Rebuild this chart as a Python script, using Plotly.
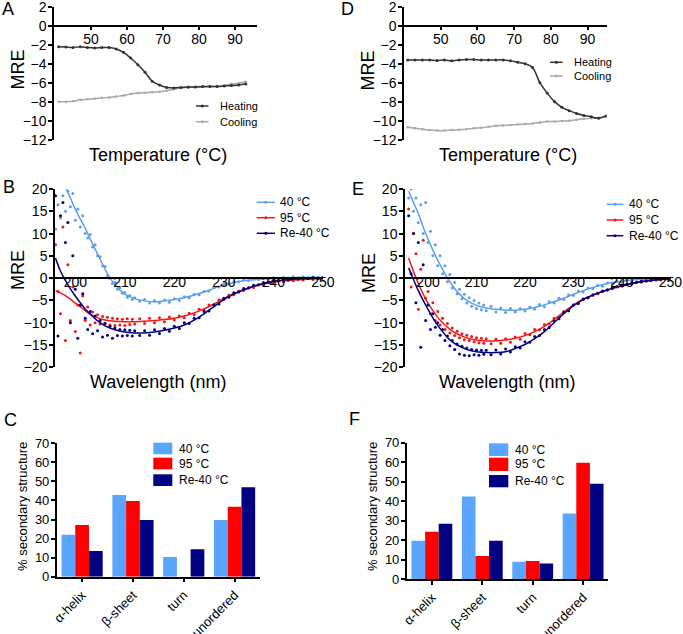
import plotly.graph_objects as go

# ── 캔버스 / 스타일 ──────────────────────────────────────────────────────────
W, H = 683, 634
FONT = "Arial, Liberation Sans, sans-serif"

LINE_BLUE = "#5b9ff0"
LINE_RED = "#f01818"
LINE_NAVY = "#000080"
BAR_BLUE = "#5aa6ff"
BAR_RED = "#ff0000"
BAR_NAVY = "#000080"
HEAT_GREY = "#333333"
COOL_GREY = "#a8a8a8"

# ── 데이터: 열 변성 (A, D) ──────────────────────────────────────────────────
TEMP_A = [41, 43, 45, 47, 49, 51, 53, 55, 57, 59, 61, 63, 65, 67,
          69, 71, 73, 75, 77, 79, 81, 83, 85, 87, 89, 91, 93]
A_HEATING = [-2.2, -2.25, -2.3, -2.2, -2.3, -2.35, -2.3, -2.3, -2.45, -2.8, -3.4, -4.1, -4.9, -5.85,
             -6.25, -6.5, -6.55, -6.5, -6.45, -6.45, -6.4, -6.4, -6.4, -6.35, -6.3, -6.25, -6.15]
A_COOLING = [-8.0, -8.0, -7.95, -7.8, -7.75, -7.7, -7.6, -7.55, -7.45, -7.35, -7.2, -7.1, -7.05, -7.0,
             -6.95, -6.85, -6.7, -6.55, -6.5, -6.45, -6.45, -6.4, -6.4, -6.3, -6.15, -6.05, -5.9]

TEMP_D = [41, 43, 45, 47, 49, 51, 53, 55, 57, 59, 61, 63, 65, 67,
          69, 71, 73, 75, 77, 79, 81, 83, 85, 87, 89, 91, 93, 95]
D_HEATING = [-3.6, -3.6, -3.6, -3.6, -3.65, -3.6, -3.7, -3.6, -3.55, -3.55, -3.6, -3.6, -3.6, -3.6,
             -3.7, -3.85, -4.0, -4.4, -6.0, -7.1, -8.0, -8.6, -8.95, -9.25, -9.45, -9.6, -9.75, -9.5]
D_COOLING = [-10.7, -10.8, -10.9, -11.0, -11.05, -11.05, -11.0, -10.95, -10.9, -10.8, -10.75, -10.65, -10.55, -10.5,
             -10.45, -10.4, -10.35, -10.3, -10.2, -10.1, -10.1, -10.05, -10.0, -9.9, -9.8, -9.75, -9.7, -9.6]

# ── 데이터: CD 스펙트럼 (B, E) ──────────────────────────────────────────────
WL_FIT = [196, 197, 198, 199, 200, 201, 202, 203, 204, 205, 206,
          208, 210, 212, 214, 216, 218, 220, 222, 224, 226, 228,
          230, 232, 234, 236, 238, 240, 242, 244, 246, 248, 250]
B_FIT_40 = [26, 23, 20.5, 18, 15.5, 13.3, 11.2, 8.8, 6.5, 4.3, 2.0,
            -1.5, -3.6, -4.6, -5.1, -5.3, -5.1, -4.8, -4.4, -3.8, -3.1, -2.3,
            -1.5, -1.0, -0.6, -0.35, -0.2, -0.1, 0.0, 0.1, 0.15, 0.2, 0.2]
B_FIT_95 = [-2.8, -3.3, -3.9, -4.7, -5.6, -6.4, -7.3, -8.1, -8.7, -9.1, -9.4,
            -9.7, -9.8, -9.8, -9.7, -9.5, -9.3, -9.0, -8.5, -7.8, -6.9, -5.8,
            -4.6, -3.5, -2.6, -1.9, -1.3, -0.9, -0.6, -0.4, -0.3, -0.2, -0.15]
B_FIT_RE40 = [4.5, 1.6, -0.5, -2.4, -4.0, -5.5, -6.9, -8.0, -9.1, -10.0, -10.7,
              -11.6, -12.1, -12.3, -12.3, -12.1, -11.7, -11.2, -10.5, -9.4, -8.0, -6.4,
              -4.8, -3.6, -2.6, -1.8, -1.2, -0.7, -0.4, -0.25, -0.1, 0.0, 0.05]
E_FIT_40 = [19.5, 17.0, 14.5, 11.5, 8.8, 6.3, 4.0, 2.0, 0.0, -1.6, -3.0,
            -5.0, -6.1, -6.7, -7.0, -7.2, -7.2, -7.0, -6.6, -6.0, -5.3, -4.5,
            -3.6, -2.8, -2.1, -1.5, -1.0, -0.7, -0.4, -0.3, -0.2, -0.1, 0.0]
E_FIT_95 = [4.5, 1.5, -1.2, -3.6, -5.6, -7.3, -8.8, -10.0, -11.0, -11.9, -12.5,
            -13.4, -13.9, -14.1, -14.1, -13.9, -13.5, -12.9, -12.0, -10.8, -9.3, -7.6,
            -6.0, -4.7, -3.8, -3.0, -2.3, -1.7, -1.2, -0.8, -0.5, -0.3, -0.2]
E_FIT_RE40 = [2.3, -0.3, -2.8, -5.0, -7.0, -8.9, -10.6, -12.0, -13.3, -14.3, -15.0,
              -16.0, -16.5, -16.7, -16.7, -16.5, -15.8, -14.9, -13.6, -12.0, -10.0, -8.0,
              -6.2, -4.8, -3.8, -3.0, -2.3, -1.7, -1.2, -0.8, -0.5, -0.3, -0.1]

WL_PTS = [196, 196.5, 197, 197.5, 198, 198.5, 199, 199.5, 200, 200.5, 201, 201.5,
          202, 202.5, 203, 203.5, 204, 204.5, 205, 205.5, 206, 206.5, 207, 207.5,
          208, 208.5, 209, 209.5, 210, 210.5, 211, 211.5, 212,
          213, 214, 215, 216, 217, 218, 219, 220, 221, 222, 223, 224, 225, 226, 227,
          228, 229, 230, 231, 232, 233, 234, 235, 236, 237, 238, 239, 240, 241, 242,
          243, 244, 245, 246, 247, 248, 249, 250]
B_PTS_40 = [11.0, 16.5, 13.5, 18.5, 15.0, 19.5, 16.0, 19.0, 13.0, 15.5, 11.5, 14.0,
            10.0, 9.0, 9.8, 7.0, 7.5, 5.0, 4.8, 2.8, 2.6, 0.6, 0.0, -1.2,
            -1.0, -2.5, -2.2, -3.4, -3.2, -4.3, -3.9, -4.8, -4.4,
            -5.2, -4.8, -5.6, -5.0, -5.6, -4.9, -5.4, -4.6, -5.0, -4.2, -4.4, -3.6, -3.7, -3.0, -2.9,
            -2.1, -2.0, -1.3, -1.3, -0.8, -0.8, -0.4, -0.5, -0.2, -0.3, 0.0, -0.2, 0.1, -0.1, 0.2,
            0.0, 0.3, 0.1, 0.3, 0.1, 0.3, 0.1, 0.2]
B_PTS_95 = [7.5, -3.0, -8.0, 11.5, -14.0, 3.0, -9.5, -2.0, -12.0, -6.0, -16.8, -4.0,
            -9.5, -6.5, -10.5, -7.6, -10.0, -8.2, -10.3, -8.6, -10.2, -8.8, -10.5, -9.0,
            -10.6, -9.1, -10.5, -9.2, -10.6, -9.1, -10.4, -9.2, -10.3,
            -9.1, -10.2, -9.0, -10.0, -8.9, -9.8, -8.7, -9.4, -8.5, -8.9, -7.9, -8.2, -7.0, -7.2, -6.0,
            -6.1, -4.9, -4.8, -3.8, -3.7, -2.9, -2.8, -2.1, -2.1, -1.5, -1.5, -1.0, -1.1, -0.6, -0.8,
            -0.4, -0.6, -0.2, -0.4, -0.1, -0.3, -0.1, -0.3]
B_PTS_RE40 = [18.5, -13.0, 14.0, 17.0, 8.0, 12.5, -10.0, 5.0, -2.5, -13.5, -6.0, -3.5,
              -9.0, -11.5, -7.5, -12.5, -8.5, -11.8, -9.5, -13.2, -10.2, -12.8, -10.8, -13.5,
              -11.2, -12.9, -11.5, -13.0, -11.6, -12.9, -11.7, -13.0, -11.8,
              -12.9, -11.8, -12.8, -11.6, -12.4, -11.3, -11.9, -10.8, -11.3, -10.0, -10.2, -9.0, -8.9, -7.5, -7.4,
              -6.0, -5.8, -4.5, -4.3, -3.3, -3.1, -2.3, -2.2, -1.6, -1.5, -1.0, -1.0, -0.6, -0.6, -0.3,
              -0.4, -0.1, -0.2, 0.0, -0.1, 0.1, 0.0, 0.1]
E_PTS_40 = [18.0, 20.0, 15.0, 18.0, 12.5, 16.5, 10.0, 17.0, 8.0, 10.5, 5.0, 7.5,
            2.8, 5.0, 1.0, 2.8, -0.8, 0.8, -2.2, -1.0, -3.5, -2.5, -4.6, -3.6,
            -5.6, -4.4, -6.3, -5.0, -6.8, -5.6, -7.1, -6.0, -7.3,
            -6.3, -7.6, -6.7, -7.7, -6.8, -7.6, -6.8, -7.4, -6.5, -7.0, -5.9, -6.4, -5.3, -5.6, -4.5,
            -4.8, -3.7, -3.9, -2.9, -3.1, -2.2, -2.4, -1.6, -1.8, -1.1, -1.3, -0.7, -0.9, -0.4, -0.6,
            -0.2, -0.4, -0.1, -0.3, 0.0, -0.2, 0.0, -0.1]
E_PTS_95 = [15.5, -2.0, 10.0, 5.5, -7.0, 2.0, 8.5, -4.5, -3.0, -8.0, -5.5, -9.5,
            -7.5, -10.5, -9.0, -11.5, -10.2, -12.3, -11.2, -12.9, -11.9, -13.4, -12.5, -13.8,
            -12.8, -14.0, -13.1, -14.3, -13.4, -14.5, -13.5, -14.6, -13.6,
            -14.7, -13.7, -14.6, -13.6, -14.4, -13.2, -13.7, -12.4, -12.7, -11.5, -11.6, -10.4, -10.3, -9.0, -8.8,
            -7.5, -7.3, -6.0, -5.6, -4.8, -4.4, -3.9, -3.5, -3.0, -2.7, -2.4, -2.0, -1.8, -1.5, -1.3,
            -1.0, -0.9, -0.7, -0.6, -0.4, -0.4, -0.2, -0.3]
E_PTS_RE40 = [14.0, 1.0, 10.0, -5.5, 8.0, -15.5, 3.0, -9.5, -6.0, -11.5, -8.0, -11.0,
              -10.0, -12.8, -11.5, -14.0, -13.0, -15.2, -14.0, -16.0, -14.8, -17.0, -15.3, -17.3,
              -15.7, -17.4, -16.0, -17.2, -16.1, -17.3, -16.2, -17.1, -16.2,
              -17.2, -16.1, -17.0, -15.9, -16.6, -15.4, -15.7, -14.3, -14.4, -13.1, -12.9, -11.5, -11.1, -9.6, -9.1,
              -7.7, -7.3, -6.0, -5.7, -4.7, -4.4, -3.7, -3.4, -2.9, -2.6, -2.2, -1.9, -1.6, -1.4, -1.1,
              -0.9, -0.7, -0.6, -0.4, -0.3, -0.2, -0.1, 0.0]

# ── 데이터: 2차 구조 비율 (C, F) ────────────────────────────────────────────
STRUCTURES = ["α-helix", "β-sheet", "turn", "unordered"]
C_40 = [22.0, 42.9, 10.3, 29.8]
C_95 = [27.1, 39.7, 0.0, 36.7]
C_RE40 = [13.5, 29.8, 14.4, 46.9]
F_40 = [19.7, 42.4, 8.9, 33.7]
F_95 = [24.3, 11.8, 9.2, 59.7]
F_RE40 = [28.4, 19.7, 7.9, 48.9]

SERIES_LABELS = ["40 °C", "95 °C", "Re-40 °C"]
THERMAL_LABELS = ["Heating", "Cooling"]


# ── 좌표 변환 (픽셀 → paper) ────────────────────────────────────────────────
def fx(px):
    return px / W


def fy(py):
    return 1 - py / H


def axis_style(**kw):
    base = dict(
        showline=True, linecolor="black", linewidth=1.5,
        ticks="outside", ticklen=4, tickwidth=1.5, tickcolor="black",
        showgrid=False, zeroline=False, automargin=False, ticklabeloverflow="allow",
        tickfont=dict(family=FONT, size=14, color="black"),
    )
    base.update(kw)
    return base


fig = go.Figure()

# ── A / D : 가열·냉각 곡선 ─────────────────────────────────────────────────
for xa, ya, temps, heat, cool in [
    ("x", "y", TEMP_A, A_HEATING, A_COOLING),
    ("x2", "y2", TEMP_D, D_HEATING, D_COOLING),
]:
    fig.add_trace(go.Scatter(
        x=temps, y=cool, mode="lines+markers", xaxis=xa, yaxis=ya,
        line=dict(color=COOL_GREY, width=1.5, shape="spline"),
        marker=dict(size=2.5, color=COOL_GREY), showlegend=False,
    ))
    fig.add_trace(go.Scatter(
        x=temps, y=heat, mode="lines+markers", xaxis=xa, yaxis=ya,
        line=dict(color=HEAT_GREY, width=1.5, shape="spline"),
        marker=dict(size=3, color=HEAT_GREY), showlegend=False,
    ))

# ── B / E : CD 스펙트럼 (측정점 + 피팅선) ───────────────────────────────────
cd_sets = [
    ("x3", "y3", [B_PTS_40, B_PTS_95, B_PTS_RE40], [B_FIT_40, B_FIT_95, B_FIT_RE40]),
    ("x4", "y4", [E_PTS_40, E_PTS_95, E_PTS_RE40], [E_FIT_40, E_FIT_95, E_FIT_RE40]),
]
for xa, ya, pts, fits in cd_sets:
    for color, p, f in zip([LINE_BLUE, LINE_RED, LINE_NAVY], pts, fits):
        fig.add_trace(go.Scatter(
            x=WL_PTS, y=p, mode="markers", xaxis=xa, yaxis=ya,
            marker=dict(size=3, color=color), showlegend=False,
        ))
        fig.add_trace(go.Scatter(
            x=WL_FIT, y=f, mode="lines", xaxis=xa, yaxis=ya,
            line=dict(color=color, width=1.5, shape="spline"), showlegend=False,
        ))

# ── C / F : 막대 ───────────────────────────────────────────────────────────
for xa, ya, vals in [("x5", "y5", [C_40, C_95, C_RE40]), ("x6", "y6", [F_40, F_95, F_RE40])]:
    for color, v, name in zip([BAR_BLUE, BAR_RED, BAR_NAVY], vals, SERIES_LABELS):
        fig.add_trace(go.Bar(
            x=STRUCTURES, y=v, name=name, xaxis=xa, yaxis=ya,
            marker=dict(color=color, line=dict(width=0)), showlegend=False,
        ))

# ── 축 배치 ────────────────────────────────────────────────────────────────
temp_y = dict(range=[-12.01, 2.01], tickvals=[-12, -10, -8, -6, -4, -2, 0, 2],
              domain=[fy(139.7), fy(6.7)], ticklabelstandoff=-1)
cd_y = dict(range=[-20.01, 20.01], tickvals=[-20, -15, -10, -5, 0, 5, 10, 15, 20],
            domain=[fy(367.3), fy(189)], ticklabelstandoff=-1)
bar_ticks = dict(family=FONT, size=13, color="black")
temp_x = dict(tickvals=[50, 60, 70, 80, 90], anchor="free", position=fy(25.7),
              ticklabelstandoff=-3)
cd_x = dict(tickvals=[200, 210, 220, 230, 240, 250], anchor="free", position=fy(277.7),
            ticks="", ticklabelstandoff=-8)

fig.update_layout(
    xaxis=axis_style(domain=[fx(54), fx(257)], range=[39.7, 96.1], **temp_x),
    yaxis=axis_style(anchor="x", **temp_y),
    xaxis2=axis_style(domain=[fx(404), fx(606.7)], range=[40, 95.2], **temp_x),
    yaxis2=axis_style(anchor="x2", **temp_y),
    xaxis3=axis_style(domain=[fx(55), fx(323)], range=[195.9, 250.02], **cd_x),
    yaxis3=axis_style(anchor="x3", **cd_y),
    xaxis4=axis_style(domain=[fx(405), fx(670.5)], range=[195.25, 250.02], **cd_x),
    yaxis4=axis_style(anchor="x4", **cd_y),
    xaxis5=axis_style(domain=[fx(56.7), fx(260)], anchor="y5", type="category",
                      tickangle=-45, tickfont=bar_ticks),
    yaxis5=axis_style(anchor="x5", range=[0, 70.01], dtick=10, domain=[fy(576.7), fy(443.3)],
                      tickfont=bar_ticks, ticklabelstandoff=-1),
    xaxis6=axis_style(domain=[fx(406.7), fx(608.3)], anchor="y6", type="category",
                      tickangle=-45, tickfont=bar_ticks),
    yaxis6=axis_style(anchor="x6", range=[0, 70.01], dtick=10, domain=[fy(579), fy(442.7)],
                      tickfont=bar_ticks, ticklabelstandoff=-1),
    barmode="group", bargap=0.19, bargroupgap=0,
    width=W, height=H, margin=dict(l=0, r=0, t=0, b=0, autoexpand=False),
    paper_bgcolor="white", plot_bgcolor="rgba(0,0,0,0)",
    font=dict(family=FONT, color="black"),
    showlegend=False,
)

# ── 텍스트 (패널 문자, 축 제목) ─────────────────────────────────────────────
annotations = []


def add_text(text, px, py, size, angle=0, xanchor="center"):
    annotations.append(dict(
        text=text, x=fx(px), y=fy(py), xref="paper", yref="paper",
        xanchor=xanchor, yanchor="middle", textangle=angle, showarrow=False,
        font=dict(family=FONT, size=size, color="black"),
    ))


for letter, px, py in [("A", 8, 8.5), ("D", 347.5, 8.5), ("B", 8.5, 187.5),
                       ("E", 357.5, 189.5), ("C", 10, 420), ("F", 354, 419)]:
    add_text(letter, px, py, 18)

add_text("MRE", 17.5, 70, 18, angle=-90)
add_text("MRE", 367.5, 70, 18, angle=-90)
add_text("Temperature (°C)", 158, 155, 18)
add_text("Temperature (°C)", 508, 155, 18)
add_text("MRE", 17.5, 270.5, 18, angle=-90)
add_text("MRE", 369, 273, 18, angle=-90)
add_text("Wavelength (nm)", 157.5, 381.7, 18)
add_text("Wavelength (nm)", 507.5, 381.7, 18)
add_text("% secondary structure", 22, 507, 13, angle=-90)
add_text("% secondary structure", 372, 507, 13, angle=-90)

# ── 범례 (GraphPad 스타일, 수동 배치) ──────────────────────────────────────
shapes = []


def line_key(x0, x1, py, color, label, text_x, size=11):
    shapes.append(dict(type="line", xref="paper", yref="paper",
                       x0=fx(x0), x1=fx(x1), y0=fy(py), y1=fy(py),
                       line=dict(color=color, width=1.5)))
    cx = (x0 + x1) / 2
    shapes.append(dict(type="circle", xref="paper", yref="paper",
                       x0=fx(cx - 1.5), x1=fx(cx + 1.5), y0=fy(py + 1.5), y1=fy(py - 1.5),
                       fillcolor=color, line=dict(width=0)))
    add_text(label, text_x, py, size, xanchor="left")


def box_key(x0, x1, py0, py1, color, label, text_x):
    shapes.append(dict(type="rect", xref="paper", yref="paper",
                       x0=fx(x0), x1=fx(x1), y0=fy(py1), y1=fy(py0),
                       fillcolor=color, line=dict(width=0)))
    add_text(label, text_x, (py0 + py1) / 2, 12, xanchor="left")


for label, color, py in zip(THERMAL_LABELS, [HEAT_GREY, COOL_GREY], [106, 121.7]):
    line_key(196, 208.5, py, color, label, 218.3)
for label, color, py in zip(THERMAL_LABELS, [HEAT_GREY, COOL_GREY], [62.3, 76]):
    line_key(550, 562.7, py, color, label, 571.7)

for label, color, py in zip(SERIES_LABELS, [LINE_BLUE, LINE_RED, LINE_NAVY], [202.3, 217.7, 233.3]):
    line_key(256.7, 275, py, color, label, 278.3, size=12)
for label, color, py in zip(SERIES_LABELS, [LINE_BLUE, LINE_RED, LINE_NAVY], [204.3, 220, 235.7]):
    line_key(606.7, 623.3, py, color, label, 627.3, size=12)

for label, color, (p0, p1) in zip(SERIES_LABELS, [BAR_BLUE, BAR_RED, BAR_NAVY],
                                  [(442.7, 454.3), (457.7, 469.3), (474.3, 486)]):
    box_key(153.3, 172.3, p0, p1, color, label, 176.7)
for label, color, (p0, p1) in zip(SERIES_LABELS, [BAR_BLUE, BAR_RED, BAR_NAVY],
                                  [(443.3, 456), (457.7, 471), (475, 487.3)]):
    box_key(489, 508.3, p0, p1, color, label, 512.7)

fig.update_layout(annotations=annotations, shapes=shapes)

fig.write_html("out.html", config={"displayModeBar": False},
               post_script="document.body.style.margin='0';")
